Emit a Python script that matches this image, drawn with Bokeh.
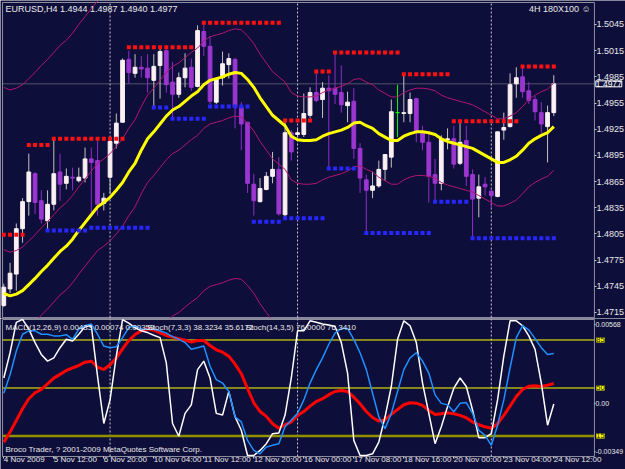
import numpy as np
from bokeh.plotting import figure
from bokeh.models import (Range1d, LinearAxis, FixedTicker, Label, ColumnDataSource,
                          CustomJSTickFormatter, PrintfTickFormatter)
from bokeh.layouts import column
from bokeh.embed import file_html
from bokeh.resources import INLINE

# ---------------- data (EURUSD, H4) ----------------
bar_open = [1.4723, 1.4742, 1.4759, 1.4811, 1.4842, 1.4874, 1.4843, 1.4820, 1.4839, 1.4876,
            1.4863, 1.4870, 1.4866, 1.4869, 1.4891, 1.4889, 1.4840, 1.4870, 1.4909, 1.4933,
            1.5005, 1.4989, 1.4996, 1.4995, 1.4981, 1.4998, 1.5015, 1.4979, 1.4965, 1.4984,
            1.4996, 1.4974, 1.5037, 1.5020, 1.4956, 1.4984, 1.4999, 1.5005, 1.4950, 1.4933,
            1.4862, 1.4842, 1.4856, 1.4871, 1.4879, 1.4827, 1.4921, 1.4919, 1.4919, 1.4941,
            1.4967, 1.4959, 1.4972, 1.4972, 1.4967, 1.4952, 1.4957, 1.4903, 1.4867, 1.4855,
            1.4860, 1.4879, 1.4893, 1.4944, 1.4943, 1.4943, 1.4960, 1.4921, 1.4910, 1.4873,
            1.4863, 1.4913, 1.4914, 1.4886, 1.4912, 1.4873, 1.4846, 1.4862, 1.4854, 1.4848,
            1.4924, 1.4928, 1.4977, 1.4985, 1.4969, 1.4959, 1.4944, 1.4928, 1.4944]
bar_high = [1.4748, 1.4772, 1.4817, 1.4846, 1.4897, 1.4876, 1.4855, 1.4855, 1.4914, 1.4897,
            1.4880, 1.4881, 1.4881, 1.4904, 1.4904, 1.4912, 1.4852, 1.4916, 1.4943, 1.5006,
            1.5015, 1.5011, 1.5009, 1.5011, 1.5011, 1.5019, 1.5019, 1.5002, 1.4990, 1.5012,
            1.5006, 1.5044, 1.5045, 1.5032, 1.4984, 1.5014, 1.5012, 1.5007, 1.4956, 1.4933,
            1.4874, 1.4869, 1.4876, 1.4899, 1.4893, 1.4934, 1.4924, 1.4927, 1.4966, 1.4973,
            1.4992, 1.4979, 1.4987, 1.5012, 1.4998, 1.4968, 1.4972, 1.4909, 1.4873, 1.4876,
            1.4889, 1.4896, 1.4959, 1.4976, 1.4989, 1.4967, 1.4961, 1.4929, 1.4921, 1.4891,
            1.4918, 1.4926, 1.4929, 1.4932, 1.4929, 1.4879, 1.4873, 1.4870, 1.4857, 1.4922,
            1.4944, 1.4989, 1.4996, 1.4998, 1.4979, 1.4963, 1.4956, 1.4952, 1.4987]
bar_low = [1.4721, 1.4737, 1.4740, 1.4795, 1.4826, 1.4828, 1.4817, 1.4809, 1.4832, 1.4843,
           1.4856, 1.4855, 1.4864, 1.4864, 1.4826, 1.4826, 1.4832, 1.4851, 1.4903, 1.4933,
           1.4977, 1.4984, 1.4984, 1.4967, 1.4950, 1.4960, 1.4967, 1.4937, 1.4961, 1.4973,
           1.4969, 1.4973, 1.5009, 1.4954, 1.4954, 1.4975, 1.4983, 1.4926, 1.4901, 1.4852,
           1.4826, 1.4841, 1.4855, 1.4863, 1.4826, 1.4824, 1.4889, 1.4916, 1.4916, 1.4938,
           1.4956, 1.4938, 1.4880, 1.4954, 1.4944, 1.4933, 1.4891, 1.4852, 1.4806, 1.4846,
           1.4858, 1.4866, 1.4881, 1.4916, 1.4933, 1.4933, 1.4910, 1.4901, 1.4841, 1.4843,
           1.4855, 1.4902, 1.4880, 1.4884, 1.4860, 1.4801, 1.4824, 1.4849, 1.4834, 1.4847,
           1.4913, 1.4927, 1.4961, 1.4961, 1.4954, 1.4935, 1.4920, 1.4887, 1.4940]
bar_close = [1.4744, 1.4760, 1.4811, 1.4842, 1.4876, 1.4841, 1.4822, 1.4839, 1.4874, 1.4862,
             1.4871, 1.4869, 1.4870, 1.4891, 1.4887, 1.4839, 1.4846, 1.4911, 1.4932, 1.5004,
             1.4990, 1.4996, 1.4994, 1.4984, 1.4997, 1.5014, 1.4976, 1.4965, 1.4984, 1.4995,
             1.4973, 1.5038, 1.5020, 1.4957, 1.4983, 1.5000, 1.5006, 1.4950, 1.4931, 1.4863,
             1.4843, 1.4857, 1.4871, 1.4879, 1.4828, 1.4921, 1.4899, 1.4921, 1.4943, 1.4967,
             1.4958, 1.4972, 1.4969, 1.4965, 1.4953, 1.4956, 1.4903, 1.4869, 1.4855, 1.4860,
             1.4879, 1.4896, 1.4945, 1.4944, 1.4944, 1.4959, 1.4921, 1.4910, 1.4871, 1.4863,
             1.4914, 1.4914, 1.4885, 1.4910, 1.4871, 1.4845, 1.4859, 1.4859, 1.4849, 1.4922,
             1.4927, 1.4976, 1.4984, 1.4968, 1.4958, 1.4945, 1.4931, 1.4944, 1.4977]

# yellow moving average
ma = [1.4737, 1.4734, 1.4736, 1.4740, 1.4747, 1.4754, 1.4762, 1.4769, 1.4777, 1.4785,
      1.4791, 1.4799, 1.4809, 1.4818, 1.4827, 1.4836, 1.4841, 1.4847, 1.4855, 1.4864,
      1.4876, 1.4886, 1.4901, 1.4914, 1.4922, 1.4931, 1.4940, 1.4947, 1.4951, 1.4957,
      1.4963, 1.4968, 1.4976, 1.4981, 1.4983, 1.4985, 1.4988, 1.4990, 1.4989, 1.4982,
      1.4973, 1.4961, 1.4951, 1.4941, 1.4935, 1.4929, 1.4917, 1.4913, 1.4912, 1.4912,
      1.4913, 1.4917, 1.4920, 1.4922, 1.4924, 1.4927, 1.4932, 1.4933, 1.4929, 1.4926,
      1.4920, 1.4916, 1.4912, 1.4912, 1.4917, 1.4920, 1.4922, 1.4922, 1.4921, 1.4919,
      1.4914, 1.4911, 1.4909, 1.4907, 1.4905, 1.4903, 1.4899, 1.4895, 1.4891, 1.4887,
      1.4887, 1.4890, 1.4894, 1.4901, 1.4909, 1.4914, 1.4918, 1.4921, 1.4928]

# inner envelope (magenta)
env_hi = [1.4787, 1.4784, 1.4786, 1.4790, 1.4797, 1.4804, 1.4812, 1.4819, 1.4827, 1.4835,
          1.4841, 1.4849, 1.4859, 1.4868, 1.4877, 1.4886, 1.4891, 1.4897, 1.4905, 1.4914,
          1.4926, 1.4936, 1.4951, 1.4964, 1.4972, 1.4981, 1.4990, 1.4997, 1.5001, 1.5007,
          1.5013, 1.5018, 1.5026, 1.5031, 1.5033, 1.5035, 1.5038, 1.5040, 1.5039, 1.5032,
          1.5023, 1.5011, 1.5001, 1.4991, 1.4985, 1.4979, 1.4967, 1.4963, 1.4962, 1.4962,
          1.4963, 1.4967, 1.4970, 1.4972, 1.4974, 1.4977, 1.4982, 1.4983, 1.4979, 1.4976,
          1.4970, 1.4966, 1.4962, 1.4962, 1.4967, 1.4970, 1.4972, 1.4972, 1.4971, 1.4969,
          1.4964, 1.4961, 1.4959, 1.4957, 1.4955, 1.4953, 1.4949, 1.4945, 1.4941, 1.4937,
          1.4937, 1.4940, 1.4944, 1.4951, 1.4959, 1.4964, 1.4968, 1.4971, 1.4978]
env_lo = [1.4687, 1.4684, 1.4686, 1.4690, 1.4697, 1.4704, 1.4712, 1.4719, 1.4727, 1.4735,
          1.4741, 1.4749, 1.4759, 1.4768, 1.4777, 1.4786, 1.4791, 1.4797, 1.4805, 1.4814,
          1.4826, 1.4836, 1.4851, 1.4864, 1.4872, 1.4881, 1.4890, 1.4897, 1.4901, 1.4907,
          1.4913, 1.4918, 1.4926, 1.4931, 1.4933, 1.4935, 1.4938, 1.4940, 1.4939, 1.4932,
          1.4923, 1.4911, 1.4901, 1.4891, 1.4885, 1.4879, 1.4867, 1.4863, 1.4862, 1.4862,
          1.4863, 1.4867, 1.4870, 1.4872, 1.4874, 1.4877, 1.4882, 1.4883, 1.4879, 1.4876,
          1.4870, 1.4866, 1.4862, 1.4862, 1.4867, 1.4870, 1.4872, 1.4872, 1.4871, 1.4869,
          1.4864, 1.4861, 1.4859, 1.4857, 1.4855, 1.4853, 1.4849, 1.4845, 1.4841, 1.4837,
          1.4837, 1.4840, 1.4844, 1.4851, 1.4859, 1.4864, 1.4868, 1.4871, 1.4878]
# outer envelope: only the visible stretches (bars 0-15 upper, bars 25-44 lower)
outer_hi_first_bar = 0
outer_hi = [1.4973, 1.4970, 1.4972, 1.4976, 1.4983, 1.4990, 1.4998, 1.5005, 1.5013, 1.5021,
            1.5027, 1.5035, 1.5045, 1.5054, 1.5063, 1.5072]
outer_lo_first_bar = 25
outer_lo = [1.4695, 1.4704, 1.4711, 1.4715, 1.4721, 1.4727, 1.4732, 1.4740, 1.4745, 1.4747,
            1.4749, 1.4752, 1.4754, 1.4753, 1.4746, 1.4737, 1.4725, 1.4715, 1.4705, 1.4699]

# resistance (red) and support (blue) dotted levels: first bar, last bar, price
res_start = [0, 4, 8, 20, 32, 45, 50, 53, 64, 72, 83]
res_end   = [3, 7, 19, 30, 44, 49, 52, 63, 71, 82, 88]
res_level = [1.4804, 1.4907, 1.4914, 1.5019, 1.5047, 1.4935, 1.4991, 1.5013, 1.4988, 1.4934, 1.4997]
sup_start = [7, 14, 24, 27, 33, 40, 45, 52, 58, 69, 75]
sup_end   = [13, 23, 26, 32, 39, 44, 51, 56, 68, 74, 88]
sup_level = [1.4809, 1.4812, 1.4950, 1.4937, 1.4951, 1.4819, 1.4823, 1.4880, 1.4806, 1.4842, 1.4800]

# lower window
stoch_7_3_3 = [57.3, 75.7, 97.8, 100.0, 92.9, 83.1, 74.5, 69.6, 72.0, 79.4,
               85.5, 84.3, 89.2, 94.8, 95.4, 58.5, 24.1, 41.3, 73.2, 99.8,
               97.3, 93.9, 91.7, 90.4, 88.5, 86.7, 68.3, 24.1, 14.8, 31.5,
               37.7, 63.4, 69.6, 57.3, 31.5, 30.3, 47.5, 29.0, 19.2, 0.8,
               0.8, 4.5, 9.4, 16.7, 17.2, 30.3, 57.3, 91.7, 91.7, 99.0,
               98.0, 96.6, 95.9, 94.8, 83.1, 60.9, 11.8, 0.8, 0.8, 2.0,
               10.6, 29.0, 51.1, 85.5, 99.0, 95.4, 83.1, 53.6, 31.5, 9.4,
               21.7, 36.4, 49.9, 57.3, 51.1, 34.0, 13.8, 13.8, 16.7, 41.3,
               73.2, 99.0, 99.0, 95.4, 88.0, 78.2, 53.6, 22.9, 38.3]
stoch_14_3_5 = [46.2, 59.7, 76.9, 89.2, 91.7, 91.7, 89.2, 89.2, 88.0, 88.0,
                88.9, 85.5, 92.9, 95.4, 96.6, 89.2, 80.6, 79.4, 80.1, 86.7,
                94.1, 95.4, 92.9, 92.9, 92.9, 91.7, 90.0, 87.5, 85.5, 83.1,
                78.2, 79.4, 80.6, 65.9, 56.1, 53.6, 47.5, 29.0, 25.3, 11.8,
                4.5, 2.0, 6.9, 8.2, 9.4, 21.7, 26.6, 31.5, 41.3, 53.6,
                63.4, 72.0, 81.9, 90.0, 93.4, 93.4, 85.5, 75.7, 63.4, 46.2,
                29.0, 20.4, 31.5, 47.5, 63.4, 72.0, 75.7, 69.6, 60.9, 45.0,
                38.8, 37.7, 32.7, 38.8, 39.4, 31.5, 19.2, 15.5, 8.2, 22.9,
                41.3, 64.6, 86.7, 95.4, 92.4, 86.0, 79.4, 74.5, 75.2]
macd_line = [-0.00278, -0.00206, -0.00122, -0.00038, 0.00034, 0.00077, 0.00101, 0.00141, 0.00182, 0.00209,
             0.00237, 0.00256, 0.00273, 0.00297, 0.00304, 0.00261, 0.00244, 0.00278, 0.00326, 0.00393,
             0.00453, 0.00496, 0.00522, 0.00537, 0.00527, 0.00508, 0.00489, 0.00477, 0.00465, 0.00455,
             0.00441, 0.00453, 0.00453, 0.00417, 0.00386, 0.00369, 0.00340, 0.00283, 0.00214, 0.00106,
             0.00005, -0.00058, -0.00093, -0.00146, -0.00178, -0.00153, -0.00134, -0.00086, -0.00058, -0.00019,
             0.00014, 0.00034, 0.00063, 0.00086, 0.00093, 0.00086, 0.00045, -0.00002, -0.00058, -0.00101,
             -0.00127, -0.00117, -0.00079, -0.00043, -0.00009, 0.00005, 0.00002, -0.00014, -0.00050, -0.00079,
             -0.00074, -0.00067, -0.00074, -0.00086, -0.00103, -0.00134, -0.00153, -0.00168, -0.00178, -0.00146,
             -0.00086, -0.00019, 0.00050, 0.00101, 0.00124, 0.00127, 0.00122, 0.00132, 0.00144]

price_ticks = [1.4715, 1.4745, 1.4775, 1.4805, 1.4835, 1.4865, 1.4895, 1.4925, 1.4955, 1.4985, 1.5015, 1.5045]
macd_ticks = [-0.00349, 0.0, 0.00568]
stoch_levels = [85, 50, 15]
date_ticks = [0, 8, 16, 24, 32, 40, 48, 56, 64, 72, 80, 88]
date_labels = ["4 Nov 2009", "5 Nov 12:00", "6 Nov 20:00", "10 Nov 04:00", "11 Nov 12:00",
               "12 Nov 20:00", "16 Nov 00:00", "17 Nov 08:00", "18 Nov 16:00", "20 Nov 00:00",
               "23 Nov 04:00", "24 Nov 12:00"]
week_starts = [17, 47, 78]

# ---------------- style / layout constants ----------------
BG = "#0E0E3A"
FG = "#E8E8E8"
FRAME = "#8E8EA0"
FONT = "Liberation Sans, Arial, sans-serif"
FS = "9px"
# canvas spans bars XL..XR; the chart box spans bars BX0..BX1 (axis area to its right)
XL, XR = -0.528, 99.47
BX0, BX1 = -0.2, 94.5
# main window: canvas prices and chart-box prices
PY0, PY1 = 1.47081, 1.50725
BY0, BY1 = 1.47092, 1.50702
# lower window: stochastic scale of canvas and of the box; MACD scale of canvas
SY0, SY1 = -9.43, 100.677
QY0, QY1 = 0.05, 99.95
MY0, MY1 = -0.00475, 0.00611

n = len(bar_close)
idx = list(range(n))


def style_axis(a, size=FS):
    a.axis_line_color = None
    a.major_tick_line_color = "#C8C8C8"
    a.major_tick_in = 0
    a.major_tick_out = 2
    a.major_label_standoff = 0
    a.minor_tick_line_color = None
    a.major_label_text_color = FG
    a.major_label_text_font = FONT
    a.major_label_text_font_size = size


# ---------------- main window ----------------
p = figure(width=625, height=318, x_range=Range1d(XL, XR), y_range=Range1d(PY0, PY1),
           output_backend="svg", toolbar_location=None, x_axis_location=None, y_axis_location=None,
           min_border=0, background_fill_color=BG, border_fill_color=BG, outline_line_color=None)
p.grid.visible = False

ya = LinearAxis(fixed_location=BX1, ticker=FixedTicker(ticks=price_ticks),
                formatter=PrintfTickFormatter(format="%.4f"))
style_axis(ya)
p.add_layout(ya, "right")

# chart box
p.line([BX0, BX1, BX1, BX0, BX0], [BY1, BY1, BY0, BY0, BY1], line_color=FRAME, line_width=1)
for w in week_starts:
    p.segment(x0=w, y0=BY0, x1=w, y1=BY1, line_color="#C8C8C8", line_dash="2 2", line_width=1)
bid = bar_close[-1]
p.segment(x0=BX0, y0=bid, x1=BX1, y1=bid, line_color="#9A9A9A", line_dash="1 1", line_width=1)

bull = [c > o for o, c in zip(bar_open, bar_close)]
doji = [c == o for o, c in zip(bar_open, bar_close)]
wick_col = ["#00FF00" if d else ("#C4C4C4" if b else "#8E2DC8") for b, d in zip(bull, doji)]
body_col = ["#00FF00" if d else ("#FBF0F2" if b else "#9B36D0") for b, d in zip(bull, doji)]
src = ColumnDataSource(dict(x=idx, h=bar_high, l=bar_low,
                            top=[max(o, c) for o, c in zip(bar_open, bar_close)],
                            bottom=[min(o, c) for o, c in zip(bar_open, bar_close)],
                            wc=wick_col, bc=body_col))
p.segment(x0="x", y0="h", x1="x", y1="l", line_color="wc", line_width=1, source=src)
p.vbar(x="x", width=0.6, top="top", bottom="bottom", fill_color="bc", line_color="bc",
       line_width=1, source=src)

ENV = "#B0176E"
p.line(idx, env_hi, line_color=ENV, line_width=1)
p.line(idx, env_lo, line_color=ENV, line_width=1)
p.line(list(range(outer_hi_first_bar, outer_hi_first_bar + len(outer_hi))), outer_hi, line_color=ENV, line_width=1)
p.line(list(range(outer_lo_first_bar, outer_lo_first_bar + len(outer_lo))), outer_lo, line_color=ENV, line_width=1)
p.line(idx, ma, line_color="#FFFF00", line_width=3)

rx, ry, sx, sy = [], [], [], []
for s, e, lv in zip(res_start, res_end, res_level):
    for k in range(s, e + 1):
        rx.append(k); ry.append(lv)
for s, e, lv in zip(sup_start, sup_end, sup_level):
    for k in range(s, e + 1):
        sx.append(k); sy.append(lv)
p.scatter(rx, ry, marker="square", size=4, fill_color="#FF1010", line_color=None)
p.scatter(sx, sy, marker="square", size=4, fill_color="#2626FF", line_color=None)

title = "EURUSD,H4  %.4f %.4f %.4f %.4f" % (bar_open[-1], bar_high[-1], bar_low[-1], bar_close[-1])
p.add_layout(Label(x=0.27, y=1.50633, text=title, text_baseline="middle", text_align="left",
                   text_color=FG, text_font=FONT, text_font_size=FS))
p.add_layout(Label(x=93.9, y=1.50622, text="4H 180X100 \u263a", text_baseline="middle", text_align="right",
                   text_color=FG, text_font=FONT, text_font_size=FS))
p.add_layout(Label(x=94.72, y=bid, text="%.4f" % bid, text_baseline="middle", text_align="left",
                   text_color="#FFFFFF", text_font=FONT, text_font_size="8.5px",
                   background_fill_color=BG, border_line_color="#FFFFFF", border_line_width=1))

# ---------------- lower window ----------------
q = figure(width=625, height=151, x_range=p.x_range, y_range=Range1d(SY0, SY1),
           output_backend="svg", toolbar_location=None, x_axis_location=None, y_axis_location=None,
           min_border=0, background_fill_color=BG, border_fill_color=BG, outline_line_color=None)
q.grid.visible = False
q.extra_y_ranges = {"macd": Range1d(MY0, MY1)}

ma_ax = LinearAxis(y_range_name="macd", fixed_location=BX1, ticker=FixedTicker(ticks=macd_ticks),
                   formatter=CustomJSTickFormatter(code="return tick == 0 ? '0.00' : tick.toFixed(5);"))
style_axis(ma_ax, "7px")
ma_ax.major_tick_out = 1
q.add_layout(ma_ax, "right")

xa = LinearAxis(fixed_location=QY0, ticker=FixedTicker(ticks=date_ticks))
style_axis(xa, "8px")
xa.major_label_overrides = {t: s for t, s in zip(date_ticks, date_labels)}
xa.major_label_orientation = -1e-6
xa.major_label_standoff = 1
q.add_layout(xa, "below")

q.line([BX0, BX1, BX1, BX0, BX0], [QY1, QY1, QY0, QY0, QY1], line_color=FRAME, line_width=1)
for w in week_starts:
    q.segment(x0=w, y0=QY0, x1=w, y1=QY1, line_color="#C8C8C8", line_dash="2 2", line_width=1)
for lv in stoch_levels:
    if lv == 15:
        q.segment(x0=BX0, y0=lv, x1=BX1, y1=lv, line_color="#8F8F00", line_width=2.5)
    else:
        q.segment(x0=BX0, y0=lv, x1=BX1, y1=lv, line_color="#FFFF00", line_width=1)

q.line(idx, macd_line, line_color="#FF0000", line_width=3, y_range_name="macd")
q.line(idx, stoch_7_3_3, line_color="#FFFFFF", line_width=1.5)
q.line(idx, stoch_14_3_5, line_color="#1E90FF", line_width=1.5)

for lv in stoch_levels:
    q.add_layout(Label(x=94.8, y=lv, text=str(lv), text_baseline="middle", text_align="left",
                       text_color="#202000", text_font=FONT, text_font_size="7.5px",
                       background_fill_color="#FFFF00"))

LFS = "8px"
q.add_layout(Label(x=0.27, y=94.1, text="MACD(12,26,9) 0.00433 0.00074 0.00359", text_baseline="middle",
                   text_color=FG, text_font=FONT, text_font_size=LFS))
q.add_layout(Label(x=23.0, y=94.1, text="Stoch(7,3,3) 38.3234 35.6172", text_baseline="middle",
                   text_color=FG, text_font=FONT, text_font_size=LFS))
q.add_layout(Label(x=38.7, y=94.1, text="Stoch(14,3,5) 76.0000 76.3410", text_baseline="middle",
                   text_color=FG, text_font=FONT, text_font_size=LFS))
q.add_layout(Label(x=0.27, y=5.2, text="Broco Trader, ? 2001-2009 MetaQuotes Software Corp.",
                   text_baseline="middle", text_color=FG, text_font=FONT, text_font_size=LFS))

layout = column(p, q, spacing=0)
open("out.html", "w").write(file_html(layout, INLINE))
